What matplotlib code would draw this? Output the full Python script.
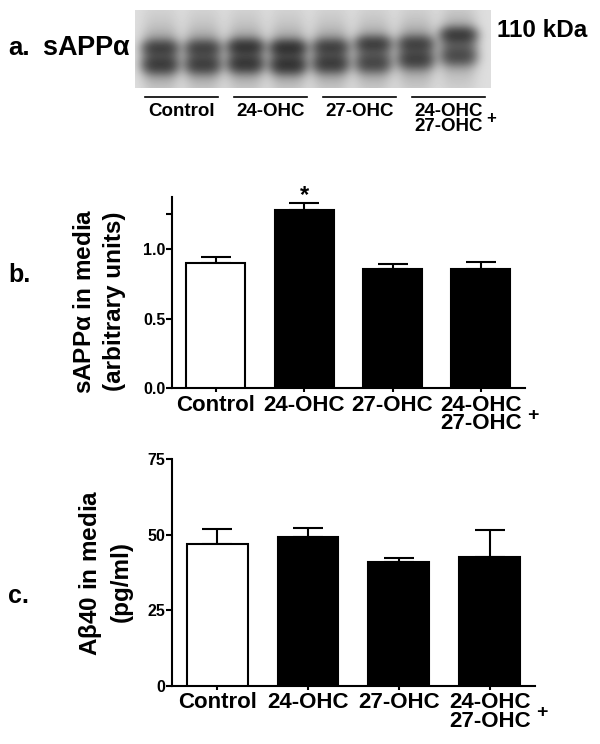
import matplotlib as mpl
mpl.use('Agg')

import matplotlib.pyplot as plt
import numpy as np

plt.rcParams['font.family'] = ['Liberation Sans', 'DejaVu Sans']
plt.rcParams['font.weight'] = 'bold'
plt.rcParams['mathtext.fontset'] = 'custom'
plt.rcParams['mathtext.rm'] = 'Liberation Sans'
plt.rcParams['mathtext.bf'] = 'Liberation Sans:bold'

# Groups and values
groups = ['Control', '24-OHC', '27-OHC', '24-OHC\n27-OHC']
bar_colors = ['white', 'black', 'black', 'black']

sapp_mean = [0.897, 1.28, 0.859, 0.854]
sapp_err = [0.048, 0.048, 0.033, 0.055]
sapp_ticks = [0.0, 0.5, 1.0, 1.25]
sapp_ticklabels = ['0.0', '0.5', '1.0', '']

ab40_mean = [46.8, 49.3, 41.0, 42.5]
ab40_err = [5.1, 3.0, 1.3, 9.0]
ab40_ticks = [0, 25, 50, 75]

# Western blot: two lanes per group, band darkness (upper, lower) and band rows
lane_upper = [0.62, 0.58, 0.85, 0.92, 0.62, 0.70, 0.58, 0.80]
lane_lower = [0.72, 0.66, 0.82, 0.90, 0.72, 0.56, 0.62, 0.52]
lane_upper_row = [37, 37, 36, 37, 36, 33, 33, 24]
lane_lower_row = [55, 55, 54, 55, 54, 54, 50, 47]

W, H = 600, 744
fig = plt.figure(figsize=(W / 100, H / 100), dpi=100)


def px_axes(x0, y0, x1, y1, **kw):
    """Axes from pixel box (top-left origin)."""
    return fig.add_axes([x0 / W, 1 - y1 / H, (x1 - x0) / W, (y1 - y0) / H], **kw)


def px_text(x, y, s, **kw):
    fig.text(x / W, 1 - y / H, s, **kw)


# ---------------- a. blot ----------------
bw, bh = 356, 78
yy, xx = np.mgrid[0:bh, 0:bw]
dens = np.zeros((bh, bw))
centers = np.linspace(25, 323, len(lane_upper))
for cx, up, lo, ru, rl in zip(centers, lane_upper, lane_lower,
                              lane_upper_row, lane_lower_row):
    side = np.exp(-np.abs((xx - cx) / 18.0) ** 3)
    mid = (ru + rl) / 2
    prof = (0.50 * up * np.exp(-((yy - ru) / 7.5) ** 2)
            + 0.50 * lo * np.exp(-((yy - rl) / 8.5) ** 2)
            + 0.32 * np.exp(-((yy - mid) / 17.0) ** 2)
            + 0.12 * np.exp(-((yy - mid) / 40.0) ** 2))
    dens += side * prof
ink = 1 - np.exp(-2.0 * dens)
gray = 0.87 - 0.82 * ink
ax_blot = px_axes(135, 10, 491, 88)
ax_blot.imshow(gray, cmap='gray', vmin=0, vmax=1, aspect='auto',
               interpolation='bilinear')
ax_blot.axis('off')

ov = fig.add_axes([0, 0, 1, 1], zorder=-1)
ov.set_xlim(0, W)
ov.set_ylim(H, 0)
ov.axis('off')
line_starts = np.linspace(145, 412, 4)
for x0, g in zip(line_starts, groups):
    ov.plot([x0, x0 + 73], [97, 97], color='black', lw=1.2)
    ov.text(x0 + 36.5, 103, g, ha='center', va='top', fontsize=13.5,
            fontweight='bold', linespacing=0.85)
ov.text(line_starts[-1] + 79, 118, '+', ha='center', va='center',
        fontsize=12, fontweight='bold')

px_text(8, 55, 'a.', fontsize=18.5, fontweight='bold', va='baseline')
px_text(42, 55, r'sAPP$\mathrm{\alpha}$', fontsize=19.5, fontweight='bold',
        va='baseline')
px_text(497, 37, '110 kDa', fontsize=17.5, fontweight='bold', va='baseline')


# ---------------- bar panels ----------------
def bar_panel(ax, mean, err, ticks, ticklabels, ymax):
    x = np.arange(len(groups))
    ax.bar(x, mean, width=0.67, color=bar_colors, edgecolor='black',
           linewidth=1.5, zorder=3)
    ax.errorbar(x, mean, yerr=[np.zeros(len(err)), err], fmt='none',
                ecolor='black', elinewidth=1.5, capsize=10.5, capthick=1.5,
                zorder=2)
    ax.set_xlim(-0.5, 3.5)
    ax.set_ylim(0, ymax)
    ax.set_xticks(x)
    ax.set_xticklabels(groups, fontsize=16, fontweight='bold',
                       linespacing=0.85)
    ax.set_yticks(ticks)
    ax.set_yticklabels(ticklabels, fontsize=11.5, fontweight='bold')
    for s in ['top', 'right']:
        ax.spines[s].set_visible(False)
    for s in ['left', 'bottom']:
        ax.spines[s].set_linewidth(1.5)
    ax.tick_params(axis='y', length=4, width=1.5, pad=0.5)
    ax.tick_params(axis='x', length=3, width=1.5, pad=1.5)
    ax.annotate('+', xy=(3, 0), xycoords=('data', 'axes fraction'),
                xytext=(52, -27), textcoords='offset pixels', ha='center',
                va='center', fontsize=14, fontweight='bold',
                annotation_clip=False)


ax_b = px_axes(171.7, 196.7, 525, 388.3)
bar_panel(ax_b, sapp_mean, sapp_err, sapp_ticks, sapp_ticklabels, 1.375)
ax_b.annotate('*', xy=(1, sapp_mean[1] + sapp_err[1]), xytext=(0, 1),
              textcoords='offset pixels', ha='center', va='baseline',
              fontsize=17, fontweight='bold')

ax_c = px_axes(171.7, 459, 535, 686)
bar_panel(ax_c, ab40_mean, ab40_err, ab40_ticks,
          [str(t) for t in ab40_ticks], 75)

px_text(8, 282, 'b.', fontsize=18, fontweight='bold', va='baseline')
px_text(8, 603, 'c.', fontsize=18, fontweight='bold', va='baseline')

px_text(84, 301, r'sAPP$\mathrm{\alpha}$ in media', fontsize=17.5,
        fontweight='bold', rotation=90, ha='center', va='center')
px_text(114, 301, '(arbitrary units)', fontsize=17.5, fontweight='bold',
        rotation=90, ha='center', va='center')
px_text(91, 573, r'A$\mathrm{\beta}$40 in media', fontsize=17.5,
        fontweight='bold', rotation=90, ha='center', va='center')
px_text(121, 581, '(pg/ml)', fontsize=17.5, fontweight='bold',
        rotation=90, ha='center', va='center')

fig.savefig('out.png', dpi=100)
